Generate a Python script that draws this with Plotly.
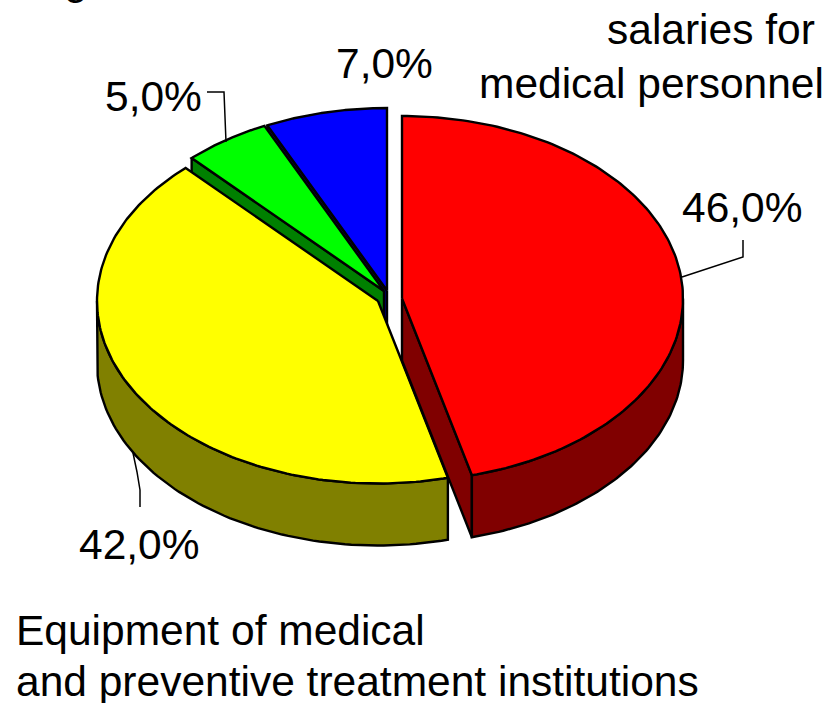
import numpy as np
import plotly.graph_objects as go

# --- data ---
categories = ["salaries for medical personnel", "Equipment of medical and preventive treatment institutions", "Other A", "Other B"]
shares = [46.0, 42.0, 5.0, 7.0]
value_labels = ["46,0%", "42,0%", "5,0%", "7,0%"]
top_colors = ["#ff0000", "#ffff00", "#00ff00", "#0000ff"]
side_colors = ["#800000", "#808000", "#008000", "#000080"]
apex_x = [402, 378, 384, 387]
apex_y = [298.5, 301, 291, 290.5]

# --- projection of the tilted pie ---
RX, RY, DEPTH = 281, 182.5, 62
FONT = "Liberation Sans, Arial, sans-serif"
edges = np.concatenate([[0], np.cumsum(shares)]) / sum(shares) * 2 * np.pi


def pt(i, t, dz=0):
    return apex_x[i] + RX * np.sin(t), apex_y[i] - RY * np.cos(t) + dz


fig = go.Figure()


def poly(xs, ys, color):
    fig.add_trace(go.Scatter(x=list(xs), y=list(ys), mode="lines", fill="toself",
                             fillcolor=color, line=dict(color="black", width=2.4),
                             hoverinfo="skip", showlegend=False))


def wedge_side(i, t):
    x, y = pt(i, t)
    poly([apex_x[i], x, x, apex_x[i], apex_x[i]],
         [apex_y[i], y, y + DEPTH, apex_y[i] + DEPTH, apex_y[i]], side_colors[i])


def rim(i, t0, t1):
    ts = np.linspace(t0, t1, 80)
    x, y = pt(i, ts)
    poly(np.r_[x, x[::-1], x[0]], np.r_[y, (y + DEPTH)[::-1], y[0]], side_colors[i])


def top(i):
    ts = np.linspace(edges[i], edges[i + 1], 160)
    x, y = pt(i, ts)
    poly(np.r_[apex_x[i], x, apex_x[i]], np.r_[apex_y[i], y, apex_y[i]], top_colors[i])


# back to front
wedge_side(3, edges[3]); top(3)
wedge_side(2, edges[2]); top(2)
rim(1, edges[1], 1.5 * np.pi); top(1)
wedge_side(0, edges[1]); rim(0, 0.5 * np.pi, edges[1]); top(0)

# leader lines
leaders = [
    ([743, 743, 682], [240, 257, 277]),
    ([133, 137, 140, 140], [453, 472, 490, 507]),
    ([207, 224, 226], [92, 92, 142]),
]
for lx, ly in leaders:
    fig.add_trace(go.Scatter(x=lx, y=ly, mode="lines", line=dict(color="black", width=1.5),
                             hoverinfo="skip", showlegend=False))

texts = [
    (value_labels[0], 742, 207, 42.5),
    (value_labels[1], 139, 544, 42.5),
    (value_labels[2], 153, 96, 42.5),
    (value_labels[3], 384, 63, 42.5),
    ("salaries for", 711, 29, 42.5),
    ("medical personnel", 651, 83, 42.5),
]
for s, x, y, size in texts:
    fig.add_annotation(x=x, y=y, text=s, showarrow=False, xanchor="center", yanchor="middle",
                       font=dict(family=FONT, size=size, color="black"))
for s, y in [("Equipment of medical", 630), ("and preventive treatment institutions", 681)]:
    fig.add_annotation(x=13.5, y=y, text=s, showarrow=False, xanchor="left", yanchor="middle",
                       font=dict(family=FONT, size=42.5, color="black"))
fig.add_annotation(x=76, y=5, text="g", showarrow=False, xanchor="center", yanchor="bottom",
                   font=dict(family=FONT, size=42.5, color="black"))

fig.update_layout(
    width=829, height=703, margin=dict(l=0, r=0, t=0, b=0),
    paper_bgcolor="white", plot_bgcolor="white", showlegend=False,
    xaxis=dict(range=[0, 829], visible=False, fixedrange=True),
    yaxis=dict(range=[703, 0], visible=False, fixedrange=True),
)
fig.write_html("out.html", config={"displayModeBar": False},
               post_script="document.body.style.margin='0';document.documentElement.style.overflow='hidden';")
